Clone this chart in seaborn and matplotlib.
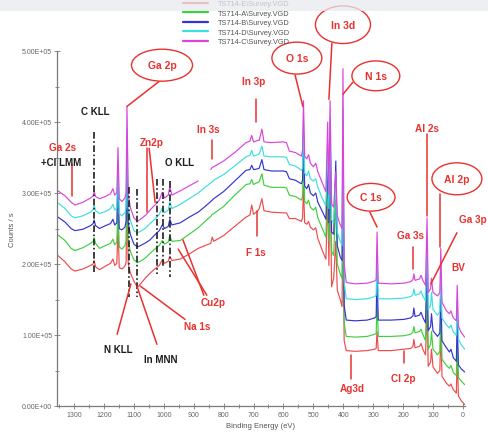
import numpy as np
import pandas as pd
import matplotlib
matplotlib.use("Agg")
import matplotlib.pyplot as plt
from matplotlib.patches import Ellipse, Rectangle
from matplotlib.ticker import MultipleLocator, FuncFormatter
import seaborn as sns

# Survey spectra, binding energy (eV) and counts/s in thousands
binding_energy = [
    1357, 1330, 1310, 1297, 1270, 1245, 1236, 1233, 1228, 1215,
    1195, 1178, 1170, 1164, 1157, 1153, 1149, 1140, 1130, 1126,
    1123, 1119, 1112, 1100, 1088, 1078, 1060, 1046, 1030, 1015,
    1005, 997, 985, 980, 973, 945, 915, 885, 862, 843,
    838, 833, 800, 760, 725, 712, 706, 700, 686, 681,
    672, 665, 640, 600, 590, 580, 560, 540, 536, 533,
    529, 522, 516, 510, 500, 492, 485, 470, 458, 452,
    448, 444, 439, 432, 425, 420, 410, 404, 401, 397,
    390, 360, 320, 295, 290, 287, 283, 240, 197, 175,
    167, 164, 160, 145, 140, 134, 125, 120, 116, 108,
    105, 100, 85, 77, 74, 70, 55, 45, 40, 32,
    22, 19, 15, 5, -6,
]

counts_c = [
    304, 296, 287, 283, 287, 293, 296, 302, 295, 292,
    295, 299, 306, 297, 300, 364, 292, 288, 293, 300,
    422, 300, 280, 265, 260, 263, 269, 276, 283, 290,
    301, 293, 297, 309, 297, 303, 310, 317, np.nan, 333,
    336, 337, 345, 358, 371, 373, 381, 372, 374, 374,
    390, 372, 371, 372, 371, 359, 357, 352, 360, 430,
    352, 348, 354, 342, 337, 342, 330, 314, 302, 400,
    298, 430, 285, 280, 330, 268, 255, 250, 475, 200,
    174, 172, 173, 176, 178, 245, 173, 172, 173, 175,
    178, 186, 177, 179, 184, 177, 170, 265, 160, 165,
    180, 160, 155, 160, 222, 146, 134, 130, 134, 124,
    120, 170, 112, 103, 97,
]

counts_d = [
    287, 278, 268, 265, 268, 273, 277, 283, 275, 271,
    274, 278, 284, 276, 279, 342, 271, 268, 272, 280,
    390, 280, 262, 247, 244, 246, 251, 257, 263, 270,
    279, 272, 276, 288, 278, 284, 292, 300, 308, 314,
    316, 318, 326, 339, 351, 353, 360, 352, 354, 355,
    366, 352, 351, 351, 350, 340, 338, 332, 335, 400,
    328, 324, 331, 320, 317, 320, 308, 292, 282, 370,
    278, 405, 262, 258, 318, 245, 232, 226, 420, 175,
    151, 150, 151, 154, 156, 215, 151, 151, 152, 154,
    157, 165, 156, 158, 162, 155, 148, 235, 136, 142,
    160, 136, 128, 133, 195, 124, 114, 110, 114, 104,
    100, 150, 94, 86, 80,
]

counts_b = [
    267, 259, 250, 247, 249, 254, 257, 262, 254, 250,
    254, 257, 263, 255, 258, 325, 250, 248, 252, 260,
    362, 258, 242, 228, 224, 226, 230, 234, 241, 247,
    255, 250, 253, 263, 255, 258, 266, 273, 281, 288,
    290, 292, 302, 318, 332, 333, 339, 333, 334, 335,
    347, 333, 331, 331, 330, 320, 318, 313, 318, 385,
    310, 306, 312, 300, 296, 300, 287, 274, 263, 350,
    258, 385, 245, 242, 345, 226, 210, 205, 380, 142,
    121, 120, 121, 124, 126, 190, 121, 121, 122, 124,
    127, 138, 126, 128, 132, 125, 117, 200, 106, 112,
    130, 106, 98, 103, 165, 92, 82, 76, 80, 68,
    63, 120, 58, 52, 48,
]

counts_a = [
    242, 233, 222, 219, 223, 229, 232, 237, 229, 222,
    226, 229, 235, 227, 231, 285, 224, 221, 226, 232,
    330, 232, 218, 206, 202, 204, 209, 215, 221, 226,
    233, 228, 231, 240, 232, 233, 242, 251, 260, 267,
    270, 271, 281, 298, 312, 313, 319, 312, 315, 316,
    327, 311, 308, 308, 307, 297, 295, 290, 295, 350,
    288, 285, 290, 280, 276, 280, 265, 250, 238, 320,
    232, 360, 218, 212, 290, 200, 186, 180, 330, 117,
    98, 97, 98, 101, 102, 150, 98, 98, 99, 101,
    104, 112, 103, 105, 108, 101, 92, 170, 80, 87,
    105, 80, 72, 77, 140, 66, 57, 53, 57, 47,
    43, 95, 40, 35, 30,
]

counts_e = [
    213, 203, 193, 190, 193, 198, 200, 205, 196, 192,
    197, 201, 207, 198, 201, 255, 195, 193, 197, 202,
    295, 200, 188, 176, 167, 172, 181, 187, 193, 198,
    206, 201, 204, 211, 205, 207, 214, 222, 226, 229,
    238, 232, 240, 254, 266, 269, 283, 270, 275, 278,
    292, 275, 273, 272, 272, 264, 264, 260, 265, 310,
    258, 256, 260, 252, 248, 251, 236, 219, 207, 300,
    198, 340, 168, 180, 232, 163, 150, 140, 280, 92,
    78, 77, 78, 80, 81, 105, 78, 78, 80, 81,
    84, 94, 82, 84, 88, 80, 72, 140, 56, 62,
    80, 55, 46, 50, 110, 42, 32, 28, 31, 23,
    18, 70, 14, 7, 2,
]

sample_names = [
    "TS714-E\\Survey.VGD",
    "TS714-A\\Survey.VGD",
    "TS714-B\\Survey.VGD",
    "TS714-D\\Survey.VGD",
    "TS714-C\\Survey.VGD",
]
sample_counts = [counts_e, counts_a, counts_b, counts_d, counts_c]
sample_colors = ["#ee4b4b", "#3fcf3f", "#3434d2", "#3fdede", "#d845dc"]

RED = "#e8322e"
INK = "#1e1e1e"

sns.set_theme(style="white")
plt.rcParams["font.family"] = ["Liberation Sans", "DejaVu Sans"]

# Long-form table; a NaN splits a spectrum into separate segments
frames = []
for name, vals in zip(sample_names, sample_counts):
    v = np.asarray(vals, dtype=float) * 1000.0
    seg = np.cumsum(np.isnan(v))
    df = pd.DataFrame({"energy": binding_energy, "counts": v,
                       "sample": name, "segment": seg})
    df = df.dropna()
    df["unit"] = name + "#" + df["segment"].astype(str)
    frames.append(df)
spectra = pd.concat(frames, ignore_index=True)

fig = plt.figure(figsize=(4.88, 4.35), dpi=100)
ax = fig.add_axes([57 / 488, 28 / 435, 408 / 488, 355 / 435])

sns.lineplot(data=spectra, x="energy", y="counts", hue="sample",
             hue_order=sample_names, palette=dict(zip(sample_names, sample_colors)),
             units="unit", estimator=None, sort=False, lw=0.85, ax=ax)

handles, labels = ax.get_legend_handles_labels()
ax.get_legend().remove()
leg = fig.legend(handles, labels, loc="upper left",
                 bbox_to_anchor=(183 / 488, 1 - 1.0 / 435), frameon=False,
                 fontsize=5.3, handlelength=3.4, handletextpad=1.3,
                 labelspacing=0.32, borderpad=0, borderaxespad=0)
for line in leg.get_lines():
    line.set_linewidth(1.6)
for t in leg.get_texts():
    t.set_color("#555555")

ax.set_xlim(1357, -7)
ax.set_ylim(0, 5e5)
ax.xaxis.set_major_locator(MultipleLocator(100))
ax.xaxis.set_minor_locator(MultipleLocator(50))
ax.yaxis.set_major_locator(MultipleLocator(1e5))
ax.yaxis.set_minor_locator(MultipleLocator(5e4))
ax.yaxis.set_major_formatter(FuncFormatter(lambda v, p: "%.2E" % v))
ax.xaxis.set_major_formatter(FuncFormatter(lambda v, p: "%d" % round(v)))
for side in ("top", "right"):
    ax.spines[side].set_visible(False)
for side in ("left", "bottom"):
    ax.spines[side].set_color("#7a7a7a")
    ax.spines[side].set_linewidth(0.9)
ax.tick_params(which="major", direction="inout", length=4, width=0.6,
               color="#7a7a7a", labelsize=5, labelcolor="#666666", pad=1.5)
ax.tick_params(which="minor", direction="inout", length=3, width=0.6,
               color="#7a7a7a")
ax.tick_params(axis="x", which="both", bottom=True)
ax.tick_params(axis="y", which="both", left=True)
ax.set_xlabel("Binding Energy (eV)", fontsize=5.5, color="#555555", labelpad=3)
ax.set_ylabel("Counts / s", fontsize=5.5, color="#555555", labelpad=4)


def red_line(e0, c0, e1, c1):
    ax.plot([e0, e1], [c0, c1], color=RED, lw=1.1, zorder=6, clip_on=False)


def black_line(e0, c0, e1, c1):
    ax.plot([e0, e1], [c0, c1], color=RED, lw=1.0, zorder=6, clip_on=False)


def bubble(text, e, c, w, h):
    ax.add_patch(Ellipse((e, c), w, h, facecolor="white", edgecolor=RED,
                         lw=1.0, zorder=7, clip_on=False))
    ax.text(e, c, text, color=RED, fontsize=7.5, fontweight="bold",
            ha="center", va="center", zorder=8, clip_on=False)


def label(text, e, c, color=RED, size=7.2):
    ax.text(e, c, text, color=color, fontsize=size, fontweight="bold",
            ha="center", va="center", zorder=8, clip_on=False)


# Auger markers
for e, c0, c1 in [(1233, 386e3, 186e3), (1116, 308e3, 153e3), (1090, 305e3, 153e3),
                  (1023, 320e3, 186e3), (1003, 320e3, 196e3), (979, 317e3, 182e3)]:
    ax.plot([e, e], [c0, c1], color=INK, lw=1.2, ls=(0, (4, 1.5, 1, 1.5)), zorder=5)

# Photoelectron peak labels with ellipses
bubble("Ga 2p", 1006, 480e3, 204, 45e3)
red_line(1013, 458e3, 1123, 422e3)
bubble("O 1s", 555, 490e3, 167, 45e3)
red_line(561, 466e3, 535, 422e3)
bubble("In 3d", 401, 537e3, 184, 53e3)
red_line(438, 511e3, 448, 432e3)
bubble("N 1s", 291, 465e3, 160, 42e3)
red_line(368, 456e3, 401, 439e3)
bubble("C 1s", 307, 294e3, 160, 39e3)
red_line(311, 273e3, 287, 252e3)
bubble("Al 2p", 20, 320e3, 167, 45e3)
red_line(77, 298e3, 77, 224e3)

# Plain peak labels
label("In 3p", 698, 458e3)
red_line(692, 432e3, 692, 400e3)
label("In 3s", 852, 390e3)
red_line(839, 375e3, 839, 348e3)
label("Ga 2s", 1340, 365e3)
red_line(1307, 341e3, 1307, 296e3)
label("Zn2p", 1039, 372e3)
red_line(1056, 363e3, 1056, 273e3)
red_line(1049, 363e3, 1029, 287e3)
label("F 1s", 692, 217e3)
red_line(688, 275e3, 688, 239e3)
label("Al 2s", 120, 392e3)
red_line(121, 383e3, 121, 268e3)
label("Ga 3p", -33, 263e3)
red_line(20, 244e3, 107, 172e3)
label("Ga 3s", 174, 241e3)
red_line(167, 224e3, 167, 193e3)
label("BV", 17, 196e3)
label("Ag3d", 371, 25e3)
red_line(374, 72e3, 374, 38e3)
label("Cl 2p", 200, 39e3)
red_line(197, 77e3, 197, 61e3)
label("Cu2p", 835, 146e3)
red_line(866, 156e3, 936, 234e3)
red_line(856, 156e3, 952, 221e3)
label("Na 1s", 889, 113e3)
red_line(929, 122e3, 1079, 169e3)

# Auger labels
label("C KLL", 1230, 415e3, color=INK, size=7)
label("+Cl LMM", 1344, 344e3, color=INK, size=7)
label("O KLL", 946, 344e3, color=INK, size=7)
label("N KLL", 1153, 80e3, color=INK, size=7)
red_line(1156, 101e3, 1110, 172e3)
label("In MNN", 1009, 66e3, color=INK, size=7)
red_line(1023, 87e3, 1090, 169e3)

# light band across the top edge
fig.add_artist(Rectangle((0, 1 - 12 / 435), 1, 12 / 435, transform=fig.transFigure,
                         facecolor="#e7eaee", edgecolor="none", alpha=0.75, zorder=20))

fig.savefig("out.png", dpi=100)
